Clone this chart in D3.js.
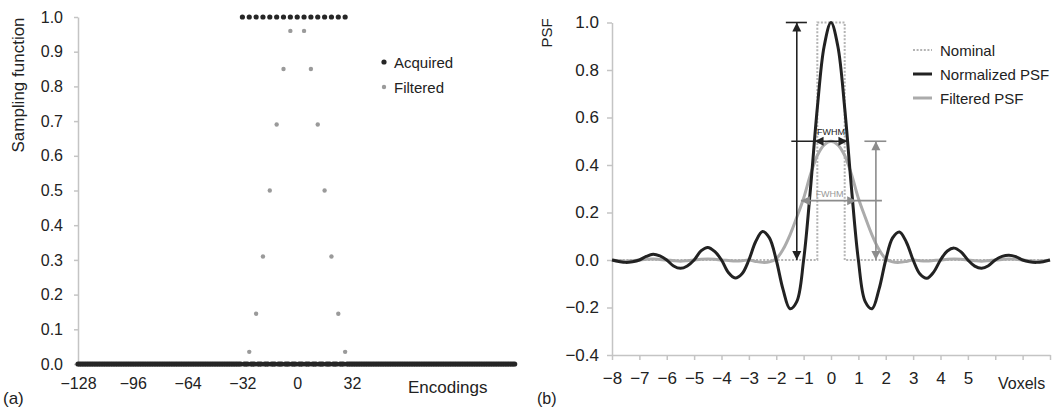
<!DOCTYPE html>
<html>
<head>
<meta charset="utf-8">
<title>Sampling function and PSF</title>
<script src="https://cdn.jsdelivr.net/npm/d3@7"></script>
<style>
body{margin:0;background:#fff;}
svg text{font-family:"Liberation Sans", Arial, Helvetica, sans-serif;fill:#222;}
.axis path,.axis line{stroke:#c4c4c4;stroke-width:1.5;}
</style>
</head>
<body>
<script>
// ---- panel (a): sampling function ----
var encodings = d3.range(-128, 128);
var acquiredOnes = [-32,-28,-24,-20,-16,-12,-8,-4,0,4,8,12,16,20,24,28];
var filteredEnc = [-28,-24,-20,-16,-12,-8,-4,0,4,8,12,16,20,24,28];
var filteredVal = [0.035,0.145,0.31,0.5,0.69,0.85,0.96,1.0,0.96,0.85,0.69,0.5,0.31,0.145,0.035];
var encTicks = [-128,-96,-64,-32,0,32];
var sampTicks = [0,0.1,0.2,0.3,0.4,0.5,0.6,0.7,0.8,0.9,1.0];

// ---- panel (b): PSF ----
var voxelX = d3.range(-8, 8.001, 0.25);
var normPSF = [0,-0.006,-0.01,-0.007,0, 0.015,0.024,0.017,0, -0.025,-0.035,-0.025,0,
  0.038,0.053,0.036,0, -0.053,-0.076,-0.058,0, 0.078,0.12,0.093,0, -0.125,-0.205,-0.175,0,
  0.30,0.64,0.90,1.0,0.90,0.64,0.30,
  0,-0.175,-0.205,-0.125, 0,0.093,0.118,0.076, 0,-0.059,-0.077,-0.051, 0,0.038,0.05,0.034,
  0,-0.026,-0.035,-0.024, 0,0.015,0.02,0.014, 0,-0.0075,-0.01,-0.007, 0];
var filtPSF = [0,-0.003,-0.005,-0.003,0, 0.003,0.004,0.002,0, -0.003,-0.005,-0.003,0,
  0.003,0.004,0.003,0, -0.002,-0.004,-0.003,0, -0.006,-0.01,-0.008,0.005, 0.045,0.105,0.18,0.26,
  0.36,0.44,0.485,0.5,0.485,0.44,0.36,
  0.26,0.18,0.105,0.045, 0.005,-0.008,-0.01,-0.006, 0,-0.003,-0.004,-0.002, 0,0.003,0.004,0.003,
  0,-0.003,-0.005,-0.003, 0,0.002,0.004,0.003, 0,-0.003,-0.005,-0.003, 0];
var nominalX = [-8,-0.5,-0.5,0.5,0.5,8];
var nominalY = [0,0,1,1,0,0];
var voxTicks = [-8,-7,-6,-5,-4,-3,-2,-1,0,1,2,3,4,5,6,7,8];
var voxLabelMax = 5;
var psfTicks = [-0.4,-0.2,0,0.2,0.4,0.6,0.8,1.0];
var legendA = ["Acquired","Filtered"];
var legendB = ["Nominal","Normalized PSF","Filtered PSF"];

var width = 1056, height = 409;
var svg = d3.select("body").append("svg")
    .attr("width", width).attr("height", height);

// ================= panel (a) =================
var xa = d3.scaleLinear().domain([-128, 128]).range([78, 516.4]);
var ya = d3.scaleLinear().domain([0, 1]).range([364, 17]);

var ga = svg.append("g");

ga.append("g").attr("class", "axis")
  .attr("transform", "translate(" + 78 + ",0)")
  .call(d3.axisLeft(ya).tickValues(sampTicks).tickFormat(d3.format(".1f"))
        .tickSize(4).tickSizeOuter(0).tickPadding(11))
  .call(function(g){ g.selectAll("text").style("font-size","16px").attr("fill","#222"); });

ga.append("g").attr("class", "axis")
  .attr("transform", "translate(0," + ya(0) + ")")
  .call(d3.axisBottom(xa).tickValues(encTicks).tickFormat(d3.format("d"))
        .tickSize(0).tickPadding(14))
  .call(function(g){ g.selectAll("text").style("font-size","16px").attr("fill","#222"); });

// filtered (gray) under acquired (black)
ga.selectAll("circle.filt")
  .data(filteredEnc.map(function(e, i){ return {e: e, v: filteredVal[i]}; }))
  .enter().append("circle").attr("class", "filt")
  .attr("cx", function(d){ return xa(d.e); })
  .attr("cy", function(d){ return ya(d.v); })
  .attr("r", 2.2).attr("fill", "#9a9a9a");

ga.selectAll("circle.acq")
  .data(encodings.map(function(e){ return {e: e, v: acquiredOnes.indexOf(e) >= 0 ? 1 : 0}; }))
  .enter().append("circle").attr("class", "acq")
  .attr("cx", function(d){ return xa(d.e); })
  .attr("cy", function(d){ return ya(d.v); })
  .attr("r", 2.6).attr("fill", "#262626");

var legA = ga.selectAll("g.leg").data(legendA).enter().append("g")
  .attr("transform", function(d, i){ return "translate(384," + (62 + i * 25) + ")"; });
legA.append("circle").attr("r", function(d, i){ return i ? 2.2 : 2.6; })
  .attr("fill", function(d, i){ return i ? "#9a9a9a" : "#262626"; });
legA.append("text").attr("x", 10).attr("y", 5.5).style("font-size", "15px").text(function(d){ return d; });

ga.append("text").attr("transform", "translate(24," + 85 + ")rotate(-90)")
  .attr("text-anchor", "middle").style("font-size", "17px").text("Sampling function");
ga.append("text").attr("x", 408).attr("y", 393).style("font-size", "17px").text("Encodings");
ga.append("text").attr("x", 3).attr("y", 404).style("font-size", "17px").text("(a)");

// ================= panel (b) =================
var xb = d3.scaleLinear().domain([-8, 8]).range([612, 1050]);
var yb = d3.scaleLinear().domain([-0.4, 1]).range([355, 22.5]);

var gb = svg.append("g");

gb.append("g").attr("class", "axis")
  .attr("transform", "translate(" + xb(-8) + ",0)")
  .call(d3.axisLeft(yb).tickValues(psfTicks).tickFormat(d3.format(".1f"))
        .tickSize(5).tickSizeOuter(0).tickPadding(8))
  .call(function(g){ g.selectAll("text").style("font-size","17px").attr("fill","#222"); });

gb.append("g").attr("class", "axis")
  .attr("transform", "translate(0," + yb(-0.4) + ")")
  .call(d3.axisBottom(xb).tickValues(voxTicks)
        .tickFormat(function(d){ return d <= voxLabelMax ? d3.format("d")(d) : ""; })
        .tickSize(5).tickSizeOuter(0).tickPadding(12))
  .call(function(g){ g.selectAll("text").style("font-size","17px").attr("fill","#222"); });

var line = d3.line().x(function(d){ return xb(d[0]); }).y(function(d){ return yb(d[1]); });
var smooth = d3.line().curve(d3.curveCatmullRom.alpha(0.5))
  .x(function(d){ return xb(d[0]); }).y(function(d){ return yb(d[1]); });

gb.append("path").datum(nominalX.map(function(x, i){ return [x, nominalY[i]]; }))
  .attr("d", line).attr("fill", "none").attr("stroke", "#b4b4b4")
  .attr("stroke-width", 2).attr("stroke-dasharray", "2,1.6");

gb.append("path").datum(voxelX.map(function(x, i){ return [x, filtPSF[i]]; }))
  .attr("d", smooth).attr("fill", "none").attr("stroke", "#ababab").attr("stroke-width", 3);

gb.append("path").datum(voxelX.map(function(x, i){ return [x, normPSF[i]]; }))
  .attr("d", smooth).attr("fill", "none").attr("stroke", "#222").attr("stroke-width", 3);

// annotations
function seg(x1, y1, x2, y2, col){
  gb.append("line").attr("x1", xb(x1)).attr("y1", yb(y1)).attr("x2", xb(x2)).attr("y2", yb(y2))
    .attr("stroke", col).attr("stroke-width", 1.6);
}
function head(x, y, dir, col){
  // dir: "up","down","left","right" ; tip at (x,y)
  var px = xb(x), py = yb(y), s = 9, w = 4.5, p;
  if (dir === "up") p = [[px, py], [px - w, py + s], [px + w, py + s]];
  if (dir === "down") p = [[px, py], [px - w, py - s], [px + w, py - s]];
  if (dir === "left") p = [[px, py], [px + s, py - w], [px + s, py + w]];
  if (dir === "right") p = [[px, py], [px - s, py - w], [px - s, py + w]];
  gb.append("path").attr("d", "M" + p.join("L") + "Z").attr("fill", col);
}
var dark = "#222", mid = "#8c8c8c";
seg(-1.25, 0.0, -1.25, 1.0, dark);
seg(-1.65, 1.0, -0.88, 1.0, dark);
head(-1.25, 1.0, "up", dark);
head(-1.25, 0.0, "down", dark);
seg(-1.45, 0.5, 0.6, 0.5, dark);
head(-0.6, 0.5, "left", dark);
head(0.6, 0.5, "right", dark);

seg(1.64, 0.0, 1.64, 0.5, mid);
seg(1.22, 0.5, 2.02, 0.5, mid);
head(1.64, 0.5, "up", mid);
head(1.64, 0.0, "down", mid);
seg(-1.1, 0.25, 1.86, 0.25, mid);
head(-1.1, 0.25, "left", mid);
head(0.92, 0.25, "right", mid);

gb.append("text").attr("x", xb(0)).attr("y", 135).attr("text-anchor", "middle")
  .style("font-size", "9px").text("FWHM");
gb.append("text").attr("x", xb(-0.05)).attr("y", 197).attr("text-anchor", "middle")
  .style("font-size", "9px").style("fill", "#999").text("FWHM");

var legB = gb.selectAll("g.leg").data(legendB).enter().append("g")
  .attr("transform", function(d, i){ return "translate(913," + (50 + i * 24) + ")"; });
legB.append("line").attr("x1", 0).attr("x2", 19)
  .attr("stroke", function(d, i){ return ["#b4b4b4", "#222", "#ababab"][i]; })
  .attr("stroke-width", function(d, i){ return i ? 3 : 2; })
  .attr("stroke-dasharray", function(d, i){ return i ? null : "2,1.6"; });
legB.append("text").attr("x", 27).attr("y", 5.5).style("font-size", "15px").text(function(d){ return d; });

gb.append("text").attr("transform", "translate(552," + 33 + ")rotate(-90)")
  .attr("text-anchor", "middle").style("font-size", "15px").text("PSF");
gb.append("text").attr("x", 998).attr("y", 389).style("font-size", "16px").text("Voxels");
gb.append("text").attr("x", 537).attr("y", 404).style("font-size", "16px").text("(b)");
</script>
</body>
</html>
